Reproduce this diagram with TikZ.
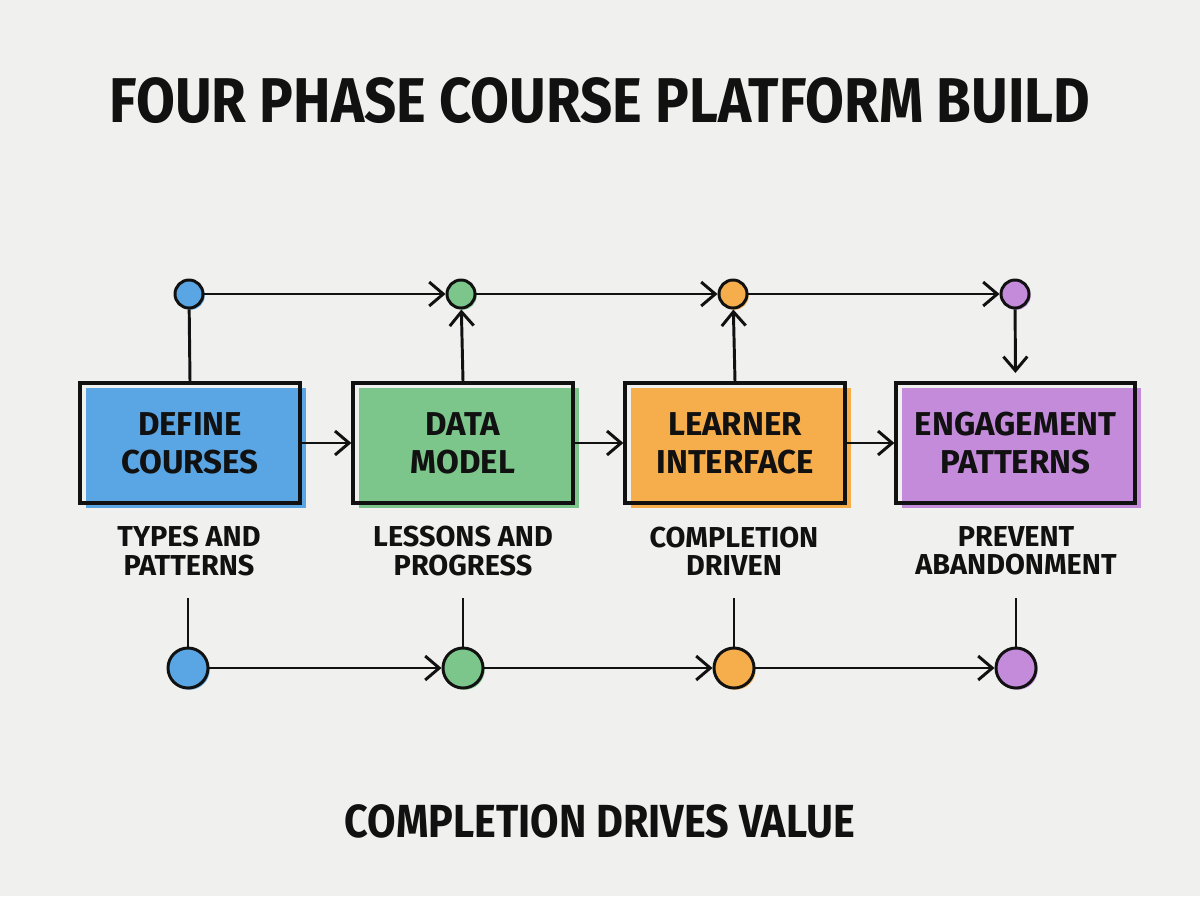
\documentclass[tikz,border=0pt]{standalone}
\usepackage{fontspec}
\setmainfont{Fira Sans}
\newfontfamily\headfont{Fira Sans}[FakeStretch=0.89]
\usepackage{tikz}
\usetikzlibrary{positioning,arrows.meta,calc}
\definecolor{bgcol}{HTML}{F0F0EE}
\definecolor{inkcol}{HTML}{111111}
\definecolor{bluec}{HTML}{5AA5E4}
\definecolor{greenc}{HTML}{7CC68B}
\definecolor{orangec}{HTML}{F6AE4D}
\definecolor{purplec}{HTML}{C38BDA}
\tikzset{
  phase/.style={rectangle, draw=inkcol, line width=2.3pt, align=center,
    minimum width=5.5cm, minimum height=3cm, inner sep=0pt,
    font=\fontsize{23.5pt}{27pt}\selectfont\bfseries,
    preaction={fill=#1, rounded corners=3pt, transform canvas={shift={(4pt,-3.8pt)}}}},
  sub/.style={align=center, inner sep=0pt, text=inkcol,
    font=\fontsize{20.5pt}{20pt}\selectfont\bfseries},
  dot/.style={circle, draw=inkcol, line width=2.1pt, inner sep=0pt, minimum size=0.7cm,
    preaction={fill=#1, transform canvas={shift={(1.2pt,-1.2pt)}}}, fill=#1},
  bigdot/.style={dot=#1, minimum size=1cm},
  flow/.style={-{Straight Barb[length=10pt, width=17pt]}, draw=inkcol, line width=2.1pt},
  link/.style={draw=inkcol, line width=2.1pt},
}

\begin{document}
\begin{tikzpicture}[x=0.025cm, y=-0.025cm, every node/.style={text=inkcol}]
\path[use as bounding box, fill=bgcol] (0,0) rectangle (1200,896);
% ---- title ----
\node[font=\headfont\fontsize{45pt}{50pt}\selectfont\bfseries, anchor=base] (title) at (600,122)
  {FOUR PHASE COURSE PLATFORM BUILD};
% ---- phase boxes ----
\node[phase=bluec]   (p1) at (190,443) {DEFINE\\COURSES};
\node[phase=greenc]  (p2) at (463,443) {DATA\\MODEL};
\node[phase=orangec] (p3) at (735,443) {LEARNER\\INTERFACE};
\node[phase=purplec, minimum width=5.975cm] (p4) at (1015.5,443) {ENGAGEMENT\\PATTERNS};
% ---- labels under boxes ----
\node[sub] (s1) at (189,551) {TYPES AND\\PATTERNS};
\node[sub] (s2) at (463,551) {LESSONS AND\\PROGRESS};
\node[sub] (s3) at (734,551) {COMPLETION\\DRIVEN};
\node[sub] (s4) at (1016,551) {PREVENT\\ABANDONMENT};
% ---- top dots ----
\node[dot=bluec]   (t1) at (189,294) {};
\node[dot=greenc]  (t2) at (461,294) {};
\node[dot=orangec] (t3) at (733,294) {};
\node[dot=purplec] (t4) at (1015,294) {};
% ---- bottom dots ----
\node[bigdot=bluec]   (b1) at (188,668) {};
\node[bigdot=greenc]  (b2) at (463,668) {};
\node[bigdot=orangec] (b3) at (734,668) {};
\node[bigdot=purplec] (b4) at (1016,668) {};
% ---- stems above bottom dots ----
\coordinate (u1) at (188,598);
\coordinate (u2) at (463,598);
\coordinate (u3) at (734,598);
\coordinate (u4) at (1016,598);
% ---- footer ----
\node[font=\headfont\fontsize{33pt}{38pt}\selectfont\bfseries, anchor=base] (foot) at (600,837)
  {COMPLETION DRIVES VALUE};
% ---- arrows ----
\draw[flow] (p1) -- (p2);
\draw[flow] (p2) -- (p3);
\draw[flow] (p3) -- (p4);
\draw[link] (p1.north) -- (t1);
\draw[flow] (p2.north) -- (t2);
\draw[flow] (p3.north) -- (t3);
\draw[flow, shorten >=6pt] (t4) -- (p4.north);
\draw[flow] (t1) -- (t2);
\draw[flow] (t2) -- (t3);
\draw[flow] (t3) -- (t4);
\foreach \i in {1,...,4}
  \draw[link] (u\i) -- (b\i);
\draw[flow] (b1) -- (b2);
\draw[flow] (b2) -- (b3);
\draw[flow] (b3) -- (b4);
\end{tikzpicture}
\end{document}
